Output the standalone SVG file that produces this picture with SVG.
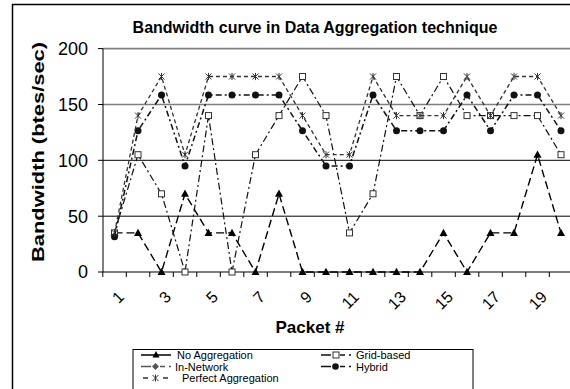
<svg xmlns="http://www.w3.org/2000/svg" width="570" height="389" viewBox="0 0 570 389">
  <style>
    .frame { fill: none; stroke: #000; stroke-width: 1.5; }
    .grid-major { stroke: #808080; stroke-width: 1.6; }
    .grid-minor { stroke: #000; stroke-width: 1; }
    .axis { stroke: #000; stroke-width: 1; fill: none; }
    .title { font-family: "Liberation Sans", Arial, sans-serif; font-weight: bold; font-size: 16px; }
    .axis-title { font-family: "Liberation Sans", Arial, sans-serif; font-weight: bold; font-size: 17px; }
    .ytick { font-family: "Liberation Sans", Arial, sans-serif; font-size: 18px; text-anchor: end; }
    .xtick { font-family: "Liberation Sans", Arial, sans-serif; font-size: 16px; text-anchor: end; }
    .legend-text { font-family: "Liberation Sans", Arial, sans-serif; font-size: 11px; }
    .s-noagg { fill: none; stroke: #000; stroke-width: 1.4; stroke-dasharray: 8 4; }
    .s-grid { fill: none; stroke: #111; stroke-width: 1.2; stroke-dasharray: 7 3 2 3; }
    .s-hybrid { fill: none; stroke: #111; stroke-width: 1.5; stroke-dasharray: 6 3 2 3; }
    .s-perfect { fill: none; stroke: #333; stroke-width: 1.3; stroke-dasharray: 4 3; }
    .lg { stroke-width: 1.5; fill: none; }
  </style>
  <defs>
    <marker id="m-tri" markerUnits="userSpaceOnUse" markerWidth="10" markerHeight="10" viewBox="-5 -5 10 10" refX="0" refY="0" overflow="visible">
      <path d="M0,-4.2 L4,3 L-4,3 Z" fill="#000"/>
    </marker>
    <marker id="m-sq" markerUnits="userSpaceOnUse" markerWidth="10" markerHeight="10" viewBox="-5 -5 10 10" refX="0" refY="0" overflow="visible">
      <rect x="-3" y="-3" width="6" height="6" fill="#fff" stroke="#333" stroke-width="1"/>
    </marker>
    <marker id="m-dot" markerUnits="userSpaceOnUse" markerWidth="10" markerHeight="10" viewBox="-5 -5 10 10" refX="0" refY="0" overflow="visible">
      <circle r="3.5" fill="#111"/>
    </marker>
    <marker id="m-star" markerUnits="userSpaceOnUse" markerWidth="10" markerHeight="10" viewBox="-5 -5 10 10" refX="0" refY="0" overflow="visible">
      <path d="M-3,-3 L3,3 M3,-3 L-3,3 M0,-3.6 V3.6" stroke="#333" stroke-width="1" fill="none"/>
    </marker>
  </defs>

  <rect width="570" height="389" fill="#fff"/>
  <!-- chart area border (right and bottom edges fall outside the view) -->
  <path class="frame" d="M12.5,395 V4.5 H580"/>

  <text class="title" x="315" y="33" text-anchor="middle">Bandwidth curve in Data Aggregation technique</text>

  <!-- gridlines -->
  <g id="gridlines">
    <line class="grid-major" x1="103" y1="48.6" x2="570" y2="48.6"/>
    <line class="grid-major" x1="103" y1="104.5" x2="570" y2="104.5"/>
    <line class="grid-minor" x1="103" y1="160.3" x2="570" y2="160.3"/>
    <line class="grid-minor" x1="103" y1="216.2" x2="570" y2="216.2"/>
  </g>

  <!-- axes with tick marks -->
  <g id="axes">
    <path class="axis" d="M103,48.6 V272 H570"/>
    <path class="axis" d="M98,48.6 H103 M98,104.5 H103 M98,160.3 H103 M98,216.2 H103 M98,272 H103"/>
    <path class="axis" d="M102.8,272 v5 M126.3,272 v5 M149.8,272 v5 M173.3,272 v5 M196.8,272 v5 M220.3,272 v5 M243.8,272 v5 M267.3,272 v5 M290.8,272 v5 M314.3,272 v5 M337.8,272 v5 M361.3,272 v5 M384.8,272 v5 M408.3,272 v5 M431.8,272 v5 M455.3,272 v5 M478.8,272 v5 M502.3,272 v5 M525.8,272 v5 M549.3,272 v5"/>
  </g>

  <g id="y-ticks">
    <text class="ytick" x="88" y="55">200</text>
    <text class="ytick" x="88" y="110.9">150</text>
    <text class="ytick" x="88" y="166.7">100</text>
    <text class="ytick" x="88" y="222.6">50</text>
    <text class="ytick" x="88" y="278.4">0</text>
  </g>

  <g id="x-ticks">
    <text class="xtick" transform="translate(125,298) rotate(-45)">1</text>
    <text class="xtick" transform="translate(172,298) rotate(-45)">3</text>
    <text class="xtick" transform="translate(219,298) rotate(-45)">5</text>
    <text class="xtick" transform="translate(266,298) rotate(-45)">7</text>
    <text class="xtick" transform="translate(313,298) rotate(-45)">9</text>
    <text class="xtick" transform="translate(360,298) rotate(-45)">11</text>
    <text class="xtick" transform="translate(407,298) rotate(-45)">13</text>
    <text class="xtick" transform="translate(454,298) rotate(-45)">15</text>
    <text class="xtick" transform="translate(501,298) rotate(-45)">17</text>
    <text class="xtick" transform="translate(548,298) rotate(-45)">19</text>
  </g>

  <text class="axis-title" x="310" y="333" text-anchor="middle">Packet #</text>
  <text class="axis-title" transform="translate(43.5,152) rotate(-90)" text-anchor="middle" textLength="220" lengthAdjust="spacingAndGlyphs">Bandwidth (btes/sec)</text>

  <!-- data series -->
  <g id="series">
    <polyline id="no-aggregation" class="s-noagg" marker-start="url(#m-tri)" marker-mid="url(#m-tri)" marker-end="url(#m-tri)"
      points="114.5,232.9 138,232.9 161.5,272 185,193.8 208.5,232.9 232,232.9 255.5,272 279,193.8 302.5,272 326,272 349.5,272 373,272 396.5,272 420,272 443.5,232.9 467,272 490.5,232.9 514,232.9 537.5,154.7 561,232.9"/>
    <polyline id="grid-based" class="s-grid" marker-start="url(#m-sq)" marker-mid="url(#m-sq)" marker-end="url(#m-sq)"
      points="114.5,232.9 138,154.7 161.5,193.8 185,272 208.5,115.6 232,272 255.5,154.7 279,115.6 302.5,76.5 326,115.6 349.5,232.9 373,193.8 396.5,76.5 420,115.6 443.5,76.5 467,115.6 490.5,115.6 514,115.6 537.5,115.6 561,154.7"/>
    <polyline id="hybrid" class="s-hybrid" marker-start="url(#m-dot)" marker-mid="url(#m-dot)" marker-end="url(#m-dot)"
      points="114.5,236.8 138,130.7 161.5,95 185,165.9 208.5,95 232,95 255.5,95 279,95 302.5,130.7 326,165.9 349.5,165.9 373,95 396.5,130.7 420,130.7 443.5,130.7 467,95 490.5,130.7 514,95 537.5,95 561,130.7"/>
    <polyline id="perfect-aggregation" class="s-perfect" marker-start="url(#m-star)" marker-mid="url(#m-star)" marker-end="url(#m-star)"
      points="114.5,232.9 138,115.6 161.5,76.5 185,154.7 208.5,76.5 232,76.5 255.5,76.5 279,76.5 302.5,115.6 326,154.7 349.5,154.7 373,76.5 396.5,115.6 420,115.6 443.5,115.6 467,76.5 490.5,115.6 514,76.5 537.5,76.5 561,115.6"/>
  </g>

  <!-- legend -->
  <g id="legend">
    <rect x="133" y="349.5" width="340" height="45" fill="#fff" stroke="#000" stroke-width="1"/>
    <g id="legend-no-aggregation">
      <line class="lg" x1="141" y1="355" x2="171" y2="355" stroke="#000"/>
      <path d="M156,351 L159.5,357.5 L152.5,357.5 Z" fill="#000"/>
      <text class="legend-text" x="177" y="359">No Aggregation</text>
    </g>
    <g id="legend-grid-based">
      <path class="lg" d="M321,355 H331 M340,355 H345 M349,355 H351" stroke="#111"/>
      <rect x="333" y="352" width="6" height="6" fill="#fff" stroke="#333"/>
      <text class="legend-text" x="356" y="359">Grid-based</text>
    </g>
    <g id="legend-in-network">
      <path class="lg" d="M141,366.5 H151 M160,366.5 H165 M169,366.5 H171" stroke="#555"/>
      <path d="M155.5,363 L159,366.5 L155.5,370 L152,366.5 Z" fill="#555"/>
      <text class="legend-text" x="175" y="370.5">In-Network</text>
    </g>
    <g id="legend-hybrid">
      <path class="lg" d="M321,366.5 H331 M340,366.5 H345 M349,366.5 H351" stroke="#111"/>
      <circle cx="335.5" cy="366.5" r="3.3" fill="#111"/>
      <text class="legend-text" x="356" y="370.5">Hybrid</text>
    </g>
    <g id="legend-perfect-aggregation">
      <path class="lg" d="M143,378 H148 M163,378 H168" stroke="#333"/>
      <path d="M152.5,375 L158.5,381 M158.5,375 L152.5,381 M155.5,374.5 V381.5" stroke="#333" stroke-width="1"/>
      <text class="legend-text" x="182" y="382">Perfect Aggregation</text>
    </g>
  </g>
</svg>
